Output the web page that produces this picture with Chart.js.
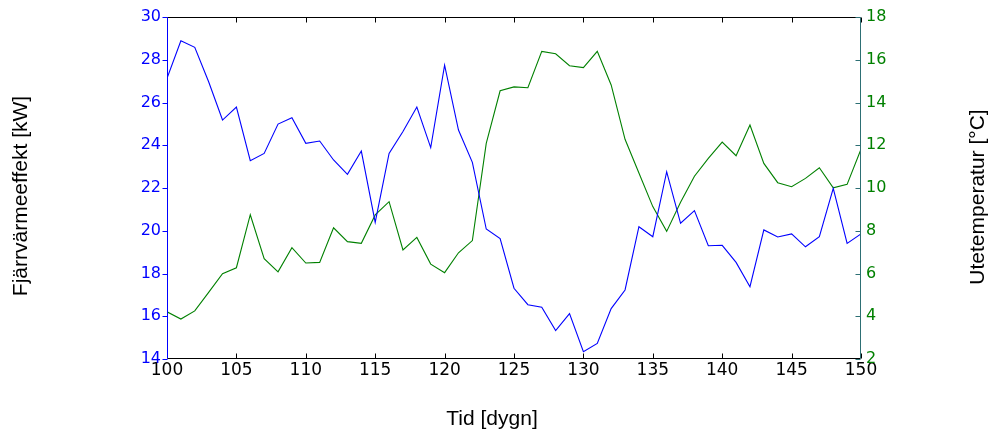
<!DOCTYPE html>
<html>
<head>
<meta charset="utf-8">
<script src="https://cdn.jsdelivr.net/npm/chart.js@4"></script>
<style>
  html, body { margin: 0; padding: 0; background: #ffffff; }
  #wrap { width: 995px; height: 436px; }
</style>
</head>
<body>
<div id="wrap"><canvas id="c" width="995" height="436"></canvas></div>
<script>
// Dag (dygn)
const days = [100,101,102,103,104,105,106,107,108,109,110,111,112,113,114,115,116,117,118,119,120,
              121,122,123,124,125,126,127,128,129,130,131,132,133,134,135,136,137,138,139,140,
              141,142,143,144,145,146,147,148,149,150];

// Fjärrvärmeeffekt [kW]
const power = [27.13,28.89,28.58,26.97,25.18,25.79,23.28,23.62,24.99,25.29,24.09,
               24.20,23.31,22.64,23.73,20.39,23.62,24.64,25.79,23.89,27.75,
               24.71,23.20,20.08,19.63,17.31,16.54,16.42,15.33,16.12,14.34,
               14.73,16.36,17.23,20.19,19.72,22.76,20.35,20.94,19.30,19.32,
               18.52,17.38,20.04,19.71,19.85,19.25,19.72,21.98,19.41,19.85];

// Utetemperatur [°C]
const temperature = [4.21,3.87,4.25,5.12,5.99,6.27,8.75,6.69,6.08,7.21,6.49,
                     6.52,8.14,7.49,7.41,8.74,9.36,7.10,7.69,6.44,6.04,
                     6.97,7.54,12.09,14.55,14.73,14.69,16.39,16.28,15.72,15.63,
                     16.39,14.82,12.28,10.70,9.13,7.97,9.33,10.55,11.39,12.15,
                     11.51,12.95,11.15,10.25,10.06,10.45,10.95,10.01,10.17,11.81];

// Axis ranges and tick steps
const xRange = [100, 150];
const powerRange = [14, 30];
const tempRange = [2, 18];

const FONT = '"Liberation Sans", Arial, Helvetica, sans-serif';
const TICK_FONT = '"DejaVu Sans", Verdana, sans-serif';
const BLUE = '#0000ff';
const GREEN = '#008000';
const RIGHT_AXIS = '#2d6f74';

const toPoints = (ys) => days.map((d, i) => ({ x: d, y: ys[i] }));

// Frame, inward tick marks and axis titles
const framePlugin = {
  id: 'frame',
  afterDatasetsDraw(chart) {
    const { ctx, chartArea: a, scales } = chart;
    const L = Math.round(a.left) + 0.5, R = Math.round(a.right) - 0.5;
    const T = Math.round(a.top) + 0.5, B = Math.round(a.bottom) - 0.5;
    const tl = 5;
    ctx.save();
    ctx.lineWidth = 1;

    // top & bottom axes with ticks pointing into the plot
    ctx.strokeStyle = '#000000';
    ctx.beginPath();
    ctx.moveTo(L, T); ctx.lineTo(R, T);
    ctx.moveTo(L, B); ctx.lineTo(R, B);
    scales.x.ticks.forEach(t => {
      const px = Math.round(scales.x.getPixelForValue(t.value)) + 0.5;
      ctx.moveTo(px, B); ctx.lineTo(px, B - tl);
      ctx.moveTo(px, T); ctx.lineTo(px, T + tl);
    });
    ctx.stroke();

    // left axis (power)
    ctx.strokeStyle = BLUE;
    ctx.beginPath();
    ctx.moveTo(L, T); ctx.lineTo(L, B);
    scales.y.ticks.forEach(t => {
      const py = Math.round(scales.y.getPixelForValue(t.value)) + 0.5;
      ctx.moveTo(L - tl, py); ctx.lineTo(L, py);
    });
    ctx.stroke();

    // right axis (temperature)
    ctx.strokeStyle = RIGHT_AXIS;
    ctx.beginPath();
    ctx.moveTo(R, T); ctx.lineTo(R, B);
    scales.y1.ticks.forEach(t => {
      const py = Math.round(scales.y1.getPixelForValue(t.value)) + 0.5;
      ctx.moveTo(R - tl, py); ctx.lineTo(R, py);
    });
    ctx.stroke();

    // axis titles
    ctx.fillStyle = '#000000';
    ctx.font = '21px ' + FONT;
    ctx.textAlign = 'center';
    ctx.textBaseline = 'middle';
    ctx.fillText('Tid [dygn]', 492, 419);

    ctx.save();
    ctx.translate(21, 196);
    ctx.rotate(-Math.PI / 2);
    ctx.fillText('Fjärrvärmeeffekt [kW]', 0, 0);
    ctx.restore();

    ctx.save();
    ctx.translate(978, 197);
    ctx.rotate(-Math.PI / 2);
    ctx.fillText('Utetemperatur [°C]', 0, 0);
    ctx.restore();

    ctx.restore();
  }
};

new Chart(document.getElementById('c'), {
  type: 'line',
  data: {
    datasets: [
      {
        label: 'Fjärrvärmeeffekt',
        data: toPoints(power),
        yAxisID: 'y',
        borderColor: BLUE,
        borderWidth: 1.1,
        pointRadius: 0,
        tension: 0,
        fill: false
      },
      {
        label: 'Utetemperatur',
        data: toPoints(temperature),
        yAxisID: 'y1',
        borderColor: GREEN,
        borderWidth: 1.1,
        pointRadius: 0,
        tension: 0,
        fill: false
      }
    ]
  },
  options: {
    responsive: false,
    animation: false,
    events: [],
    layout: { padding: { top: 17, left: 0, right: 0, bottom: 0 } },
    plugins: { legend: { display: false }, tooltip: { enabled: false } },
    scales: {
      x: {
        type: 'linear',
        min: xRange[0], max: xRange[1],
        grid: { display: false, drawTicks: false },
        border: { display: false },
        ticks: { stepSize: 5, color: '#000000', padding: 1, maxRotation: 0,
                 font: { family: TICK_FONT, size: 17 } },
        afterFit(s) { s.height = 77; }
      },
      y: {
        type: 'linear', position: 'left',
        min: powerRange[0], max: powerRange[1],
        grid: { display: false, drawTicks: false },
        border: { display: false },
        ticks: { stepSize: 2, color: BLUE, padding: 6,
                 font: { family: TICK_FONT, size: 16 } },
        afterFit(s) { s.width = 167; }
      },
      y1: {
        type: 'linear', position: 'right',
        min: tempRange[0], max: tempRange[1],
        grid: { display: false, drawTicks: false },
        border: { display: false },
        ticks: { stepSize: 2, color: GREEN, padding: 5,
                 font: { family: TICK_FONT, size: 16 } },
        afterFit(s) { s.width = 134; }
      }
    }
  },
  plugins: [framePlugin]
});
</script>
</body>
</html>
